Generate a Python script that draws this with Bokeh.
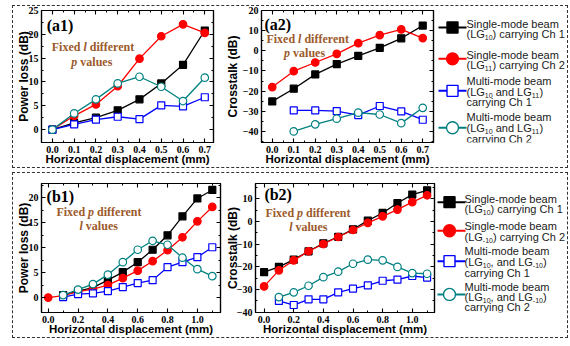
from bokeh.plotting import figure
from bokeh.layouts import row, column
from bokeh.models import (Range1d, LinearAxis, FixedTicker, NumeralTickFormatter,
                          Label, CustomJSTickFormatter)
from bokeh.embed import file_html
from bokeh.resources import INLINE

# ---------------- data ----------------
x_a = [0.0, 0.1, 0.2, 0.3, 0.4, 0.5, 0.6, 0.7]
x_a_mm = [0.1, 0.2, 0.3, 0.4, 0.5, 0.6, 0.7]
x_b = [0.0, 0.1, 0.2, 0.3, 0.4, 0.5, 0.6, 0.7, 0.8, 0.9, 1.0, 1.1]
x_b_mm = [0.1, 0.2, 0.3, 0.4, 0.5, 0.6, 0.7, 0.8, 0.9, 1.0, 1.1]

# (a1) power loss, fixed l different p
a1_single_ch1 = [0.0, 1.4, 2.5, 4.05, 6.35, 9.7, 13.6, 20.8]
a1_single_ch2 = [0.0, 2.9, 5.3, 9.1, 14.9, 19.6, 22.1, 20.3]
a1_multi_ch1 = [0.0, 1.1, 2.1, 2.7, 2.2, 5.1, 4.9, 6.8]
a1_multi_ch2 = [0.0, 3.4, 6.35, 9.7, 11.1, 9.0, 6.0, 10.9]

# (a2) crosstalk
a2_single_ch1 = [-25.1, -18.8, -11.7, -6.6, -2.5, 1.5, 6.2, 12.5]
a2_single_ch2 = [-18.0, -10.1, -5.8, -1.5, 3.8, 7.8, 10.6, 6.3]
a2_multi_ch1 = [-29.6, -29.6, -29.9, -31.9, -27.4, -30.1, -34.2]
a2_multi_ch2 = [-40.0, -36.5, -33.7, -30.7, -31.6, -35.9, -28.3]

# (b1) power loss, fixed p different l
b1_single_ch1 = [0.5, 1.3, 2.0, 3.5, 5.1, 7.1, 9.6, 12.5, 16.3, 19.9, 21.6]
b1_single_ch2 = [0.0, 0.4, 1.2, 1.7, 2.5, 3.9, 5.4, 7.3, 9.5, 12.1, 15.3, 18.2]
b1_multi_ch1 = [0.1, 0.7, 0.85, 1.3, 2.1, 2.9, 3.5, 6.1, 7.1, 8.1, 10.1]
b1_multi_ch2 = [0.5, 1.6, 2.7, 4.6, 7.1, 9.6, 11.4, 10.6, 8.0, 5.7, 4.3]

# (b2) crosstalk
b2_single_ch1 = [-22.4, -20.1, -16.9, -13.2, -9.7, -6.8, -3.5, 0.3, 3.7, 8.1, 11.8, 13.7]
b2_single_ch2 = [-28.7, -21.6, -17.2, -13.2, -10.0, -6.9, -3.8, -0.7, 2.2, 5.2, 8.5, 11.5]
b2_multi_ch1 = [-35.1, -36.9, -34.4, -34.4, -31.3, -29.7, -28.2, -26.2, -25.7, -24.1, -24.8]
b2_multi_ch2 = [-33.4, -31.3, -28.4, -24.6, -22.2, -18.7, -16.9, -17.2, -20.1, -22.8, -23.1]

# ticks
ticks_x_a = [0.0, 0.1, 0.2, 0.3, 0.4, 0.5, 0.6, 0.7]
minor_x_a = [0.05, 0.15, 0.25, 0.35, 0.45, 0.55, 0.65]
ticks_x_b = [0.0, 0.2, 0.4, 0.6, 0.8, 1.0]
minor_x_b = [0.1, 0.3, 0.5, 0.7, 0.9, 1.1]
ticks_y_a1 = [0, 5, 10, 15, 20, 25]
minor_y_a1 = [2.5, 7.5, 12.5, 17.5, 22.5]
ticks_y_a2 = [-40, -30, -20, -10, 0, 10, 20]
minor_y_a2 = [-45, -35, -25, -15, -5, 5, 15]
ticks_y_b1 = [0, 5, 10, 15, 20]
minor_y_b1 = [2.5, 7.5, 12.5, 17.5, 22.5]
ticks_y_b2 = [-40, -30, -20, -10, 0, 10]
minor_y_b2 = [-35, -25, -15, -5, 5, 15]

x_label = "Horizontal displacement (mm)"
y_label_loss = "Power loss (dB)"
y_label_xt = "Crosstalk (dB)"

# legend texts: list of lines, each line a list of (text, is_subscript)
legend_top = [
    [[("Single-mode beam", 0)], [("(LG", 0), ("10", 1), (") carrying Ch 1", 0)]],
    [[("Single-mode beam", 0)], [("(LG", 0), ("11", 1), (") carrying Ch 2", 0)]],
    [[("Multi-mode beam", 0)], [("(LG", 0), ("10", 1), (" and LG", 0), ("11", 1), (")", 0)],
     [("carrying Ch 1", 0)]],
    [[("Multi-mode beam", 0)], [("(LG", 0), ("10", 1), (" and LG", 0), ("11", 1), (")", 0)],
     [("carrying Ch 2", 0)]],
]
legend_bottom = [
    [[("Single-mode beam", 0)], [("(LG", 0), ("10", 1), (") carrying Ch 1", 0)]],
    [[("Single-mode beam", 0)], [("(LG", 0), ("-10", 1), (") carrying Ch 2", 0)]],
    [[("Multi-mode beam", 0)], [("(LG", 0), ("10", 1), (", and LG", 0), ("-10", 1), (")", 0)],
     [("carrying Ch 1", 0)]],
    [[("Multi-mode beam", 0)], [("(LG", 0), ("10", 1), (", and LG", 0), ("-10", 1), (")", 0)],
     [("carrying Ch 2", 0)]],
]

# ---------------- styles ----------------
BLACK = "#000000"
RED = "#ff0000"
BLUE = "#0000ff"
TEAL = "#008080"
BROWN = "#9c5a2c"
SERIF = "Liberation Serif"
SANS = "Liberation Sans"

STYLES = [(BLACK, "square", True), (RED, "circle", True),
          (BLUE, "square", False), (TEAL, "circle", False)]

ARIAL = {' ': 278, '(': 333, ')': 333, ',': 278, '-': 333, 'L': 556, 'G': 778, 'C': 722,
         'S': 667, 'M': 833, 'a': 556, 'b': 556, 'c': 500, 'd': 556, 'e': 556, 'g': 556,
         'h': 556, 'i': 222, 'l': 222, 'm': 833, 'n': 556, 'o': 556, 'r': 333, 'u': 556,
         't': 278, 'y': 500, 'p': 556}
for _d in "0123456789":
    ARIAL[_d] = 556
TIMES_B = {' ': 250, 'F': 611, 'i': 278, 'x': 500, 'e': 444, 'd': 556, 'f': 333, 'r': 444,
           'n': 556, 't': 333, 'v': 500, 'a': 500, 'l': 278, 'u': 556, 's': 389, 'p': 556}
TIMES_BI = {'l': 278, 'p': 500}


def tw(text, table, size):
    return sum(table.get(c, 500) for c in text) / 1000.0 * size


def style_axis(ax, labels=True, label_standoff=0):
    ax.axis_line_width = 1.2
    ax.major_tick_in = 4
    ax.major_tick_out = 0
    ax.minor_tick_in = 2
    ax.minor_tick_out = 0
    ax.major_tick_line_width = 1.1
    ax.minor_tick_line_width = 1
    ax.major_label_text_font = SERIF
    ax.major_label_text_font_style = "bold"
    ax.major_label_text_font_size = "10px" if labels else "0px"
    ax.major_label_text_color = "black"
    ax.major_label_standoff = 3 if labels else 0
    ax.axis_label_text_font = SANS
    ax.axis_label_text_font_style = "bold"
    ax.axis_label_text_color = "black"
    ax.axis_label_standoff = label_standoff


def make_panel(width, height, borders, xr, yr, xt, xm, xfmt, yt, ym, ylabel, ystand):
    p = figure(width=width, height=height, x_range=Range1d(*xr), y_range=Range1d(*yr),
               output_backend="svg", toolbar_location=None, title=None,
               min_border_left=borders[0], min_border_right=borders[1],
               min_border_top=borders[2], min_border_bottom=borders[3])
    p.xgrid.visible = False
    p.ygrid.visible = False
    p.outline_line_color = "black"
    p.outline_line_width = 1.2
    xtick = FixedTicker(ticks=xt, minor_ticks=xm)
    ytick = FixedTicker(ticks=yt, minor_ticks=ym)
    p.xaxis.ticker = xtick
    p.yaxis.ticker = ytick
    p.xaxis.formatter = NumeralTickFormatter(format=xfmt)
    p.xaxis.axis_label = x_label
    p.yaxis.axis_label = ylabel
    style_axis(p.xaxis[0], label_standoff=-3)
    style_axis(p.yaxis[0], label_standoff=ystand)
    p.xaxis.axis_label_text_font_size = "11.5px"
    p.yaxis.axis_label_text_font_size = "12px"
    blank = CustomJSTickFormatter(code="return ''")
    top = LinearAxis(ticker=xtick, formatter=blank)
    right = LinearAxis(ticker=ytick, formatter=blank)
    style_axis(top, labels=False)
    style_axis(right, labels=False)
    p.add_layout(top, "above")
    p.add_layout(right, "right")
    return p


def add_series(p, x, y, style):
    color, marker, filled = style
    p.line(x, y, line_color=color, line_width=1.3)
    p.scatter(x, y, marker=marker, size=7 if marker == "square" else 7.5,
              line_color=color, fill_color=color if filled else "white", line_width=1.2)


def add_annotation(p, tag, x_tag, y_tag, fixed, other, x1, y1, x2, y2):
    p.add_layout(Label(x=x_tag, y=y_tag, text=tag, text_font=SERIF, text_font_style="bold",
                       text_font_size="16px", text_color="black", text_baseline="middle"))
    fs = 12
    off = tw("Fixed ", TIMES_B, fs)
    p.add_layout(Label(x=x1, y=y1, text="Fixed", text_font=SERIF, text_font_style="bold",
                       text_font_size="12px", text_color=BROWN, text_baseline="middle"))
    p.add_layout(Label(x=x1, y=y1, x_offset=off, text=fixed, text_font=SERIF,
                       text_font_style="bold italic", text_font_size="12px",
                       text_color=BROWN, text_baseline="middle"))
    off2 = off + tw(fixed, TIMES_BI, fs) + tw(" ", TIMES_B, fs)
    p.add_layout(Label(x=x1, y=y1, x_offset=off2, text="different", text_font=SERIF,
                       text_font_style="bold", text_font_size="12px", text_color=BROWN,
                       text_baseline="middle"))
    p.add_layout(Label(x=x2, y=y2, text=other, text_font=SERIF,
                       text_font_style="bold italic", text_font_size="12px",
                       text_color=BROWN, text_baseline="middle"))
    p.add_layout(Label(x=x2, y=y2, x_offset=tw(other, TIMES_BI, fs) + tw(" ", TIMES_B, fs),
                       text="values", text_font=SERIF, text_font_style="bold",
                       text_font_size="12px", text_color=BROWN, text_baseline="middle"))


def make_legend(width, height, entries, line_x, marker_x, text_x, marker_ys, text_ys):
    lf = figure(width=width, height=height, x_range=Range1d(0, width),
                y_range=Range1d(height, 0), output_backend="svg", toolbar_location=None,
                title=None, min_border=0, x_axis_type=None, y_axis_type=None)
    lf.outline_line_color = None
    lf.xgrid.visible = False
    lf.ygrid.visible = False
    fs_main, fs_sub = 11, 7
    for style, lines, my, tys in zip(STYLES, entries, marker_ys, text_ys):
        color, marker, filled = style
        lf.line(line_x, [my, my], line_color=color, line_width=2)
        lf.scatter([marker_x], [my], marker=marker, size=11 if marker == "square" else 12,
                   line_color=color, fill_color=color if filled else "white", line_width=1.4)
        for segs, ty in zip(lines, tys):
            off = 0.0
            for text, sub in segs:
                fs = fs_sub if sub else fs_main
                stripped = text.lstrip(" ")
                off += tw(text[:len(text) - len(stripped)], ARIAL, fs)
                lf.add_layout(Label(x=text_x, y=ty, x_offset=off, y_offset=-3.5 if sub else 0,
                                    text=stripped, text_font=SANS, text_font_size="%spx" % fs,
                                    text_color="#1a1a1a", text_baseline="middle"))
                off += tw(stripped, ARIAL, fs)
    return lf


# ---------------- panels ----------------
a1 = make_panel(209, 161, (27, 9, 4, 25), (-0.05, 0.74), (-2.7, 25),
                ticks_x_a, minor_x_a, "0.0", ticks_y_a1, minor_y_a1, y_label_loss, -5)
for xx, yy, st in [(x_a, a1_single_ch1, STYLES[0]), (x_a, a1_single_ch2, STYLES[1]),
                   (x_a, a1_multi_ch1, STYLES[2]), (x_a, a1_multi_ch2, STYLES[3])]:
    add_series(a1, xx, yy, st)
add_annotation(a1, "(a1)", -0.026, 21.9, "l", "p", -0.003, 17.25, 0.087, 14.1)

a2 = make_panel(214, 161, (35, 3, 4, 25), (-0.05, 0.75), (-45.5, 20),
                ticks_x_a, minor_x_a, "0.0", ticks_y_a2, minor_y_a2, y_label_xt, 0)
for xx, yy, st in [(x_a, a2_single_ch1, STYLES[0]), (x_a, a2_single_ch2, STYLES[1]),
                   (x_a_mm, a2_multi_ch1, STYLES[2]), (x_a_mm, a2_multi_ch2, STYLES[3])]:
    add_series(a2, xx, yy, st)
add_annotation(a2, "(a2)", -0.036, 13.0, "l", "p", -0.027, 6.1, 0.055, -1.3)

b1 = make_panel(209, 164, (27, 2, 7, 25), (-0.045, 1.155), (-3, 22.9),
                ticks_x_b, minor_x_b, "0.0", ticks_y_b1, minor_y_b1, y_label_loss, -5)
for xx, yy, st in [(x_b_mm, b1_single_ch1, STYLES[0]), (x_b, b1_single_ch2, STYLES[1]),
                   (x_b_mm, b1_multi_ch1, STYLES[2]), (x_b_mm, b1_multi_ch2, STYLES[3])]:
    add_series(b1, xx, yy, st)
add_annotation(b1, "(b1)", -0.011, 20.2, "p", "l", 0.055, 17.1, 0.21, 14.3)

b2 = make_panel(214, 164, (31, 2, 10, 25), (-0.058, 1.15), (-40.2, 16.7),
                ticks_x_b, minor_x_b, "0.0", ticks_y_b2, minor_y_b2, y_label_xt, -6)
for xx, yy, st in [(x_b, b2_single_ch1, STYLES[0]), (x_b, b2_single_ch2, STYLES[1]),
                   (x_b_mm, b2_multi_ch1, STYLES[2]), (x_b_mm, b2_multi_ch2, STYLES[3])]:
    add_series(b2, xx, yy, st)
add_annotation(b2, "(b2)", 0.002, 11.9, "p", "l", 0.009, 3.7, 0.169, -2.5)

leg_top = make_legend(131, 161, legend_top, [2, 30], 16, 30,
                      [20.7, 59, 98, 143], [[16.7, 29], [54, 67], [86, 99, 112], [130, 143.5, 157]])
leg_bot = make_legend(131, 164, legend_bottom, [1, 29], 13, 28,
                      [23.7, 60, 98.7, 141],
                      [[19.7, 32], [54, 68], [86, 99.7, 113.7], [131, 143.7, 157]])

box = {"border": "1px dashed #333333"}
top_row = row(a1, a2, leg_top, styles=box)
bot_row = row(b1, b2, leg_bot, styles=box)
layout = column(top_row, bot_row, spacing=4, margin=(5, 0, 0, 12))

open("out.html", "w").write(file_html(layout, INLINE))
